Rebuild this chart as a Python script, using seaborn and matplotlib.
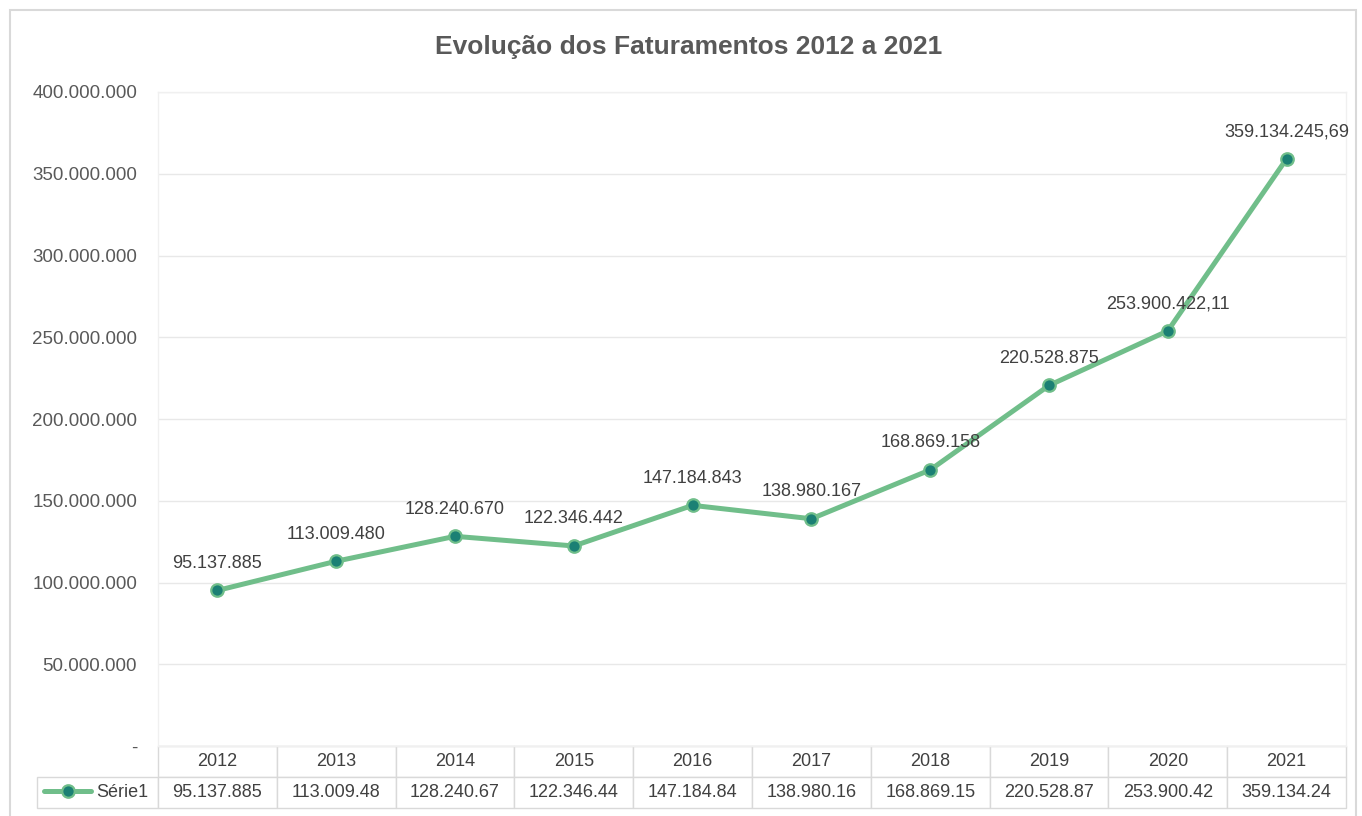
import matplotlib
matplotlib.use("Agg")
import matplotlib.pyplot as plt
import seaborn as sns
import pandas as pd
from matplotlib.lines import Line2D
from matplotlib.patches import Rectangle
from matplotlib.ticker import FuncFormatter

# data
years = ["2012", "2013", "2014", "2015", "2016", "2017", "2018", "2019", "2020", "2021"]
faturamento = [95137885, 113009480, 128240670, 122346442, 147184843,
               138980167, 168869158, 220528875, 253900422.11, 359134245.69]
point_labels = ["95.137.885", "113.009.480", "128.240.670", "122.346.442", "147.184.843",
                "138.980.167", "168.869.158", "220.528.875", "253.900.422,11", "359.134.245,69"]
table_values = ["95.137.885", "113.009.48", "128.240.67", "122.346.44", "147.184.84",
                "138.980.16", "168.869.15", "220.528.87", "253.900.42", "359.134.24"]
series_name = "Série1"
title = "Evolução dos Faturamentos 2012 a 2021"

LINE = "#70BE8A"
MARK = "#1B8074"
TXT = "#404040"
GRID = "#E8E8E8"

sns.set_theme(style="white")
plt.rcParams["font.family"] = ["Liberation Sans", "DejaVu Sans"]

W, H = 1362, 816
fig = plt.figure(figsize=(W / 100, H / 100), dpi=100)

# plot area in pixel terms
left, right, top, bottom = 158, 1346, 92, 746
ax = fig.add_axes([left / W, (H - bottom) / H, (right - left) / W, (bottom - top) / H])

df = pd.DataFrame({"pos": range(len(years)), "valor": faturamento})
sns.lineplot(data=df, x="pos", y="valor", ax=ax, color=LINE, linewidth=3.6,
             marker="o", markersize=9, markerfacecolor=MARK, markeredgecolor=LINE,
             markeredgewidth=1.6, zorder=3)

for i, (v, lab) in enumerate(zip(faturamento, point_labels)):
    ax.annotate(lab, (i, v), xytext=(0, 19.5), textcoords="offset points",
                ha="center", va="center", fontsize=13, color=TXT)

ax.set_xlim(-0.5, len(years) - 0.5)
ax.set_ylim(0, 400_000_000)
ax.set_yticks(range(0, 400_000_001, 50_000_000))
ax.yaxis.set_major_formatter(FuncFormatter(
    lambda v, p: "-" if v == 0 else f"{int(v):,}".replace(",", ".")))
ax.tick_params(axis="y", length=0, pad=15, labelsize=13.5, labelcolor="#595959")
ax.set_xticks([])
ax.set_xlabel("")
ax.set_ylabel("")
ax.grid(axis="y", color=GRID, linewidth=1)
for s in ax.spines.values():
    s.set_color("#F0F0F0")
    s.set_linewidth(1)

# data table under the plot
lab_w = (left - 37) / (right - left)
row_h = (808 - bottom) / (bottom - top)
tbl = ax.table(cellText=[[""] + table_values], colLabels=[""] + years,
               colWidths=[lab_w] + [1 / len(years)] * len(years),
               cellLoc="center", bbox=[-lab_w, -row_h, 1 + lab_w, row_h])
tbl.auto_set_font_size(False)
tbl.set_fontsize(13)
for (r, c), cell in tbl.get_celld().items():
    cell.set_edgecolor("#D9D9D9")
    cell.set_linewidth(1)
    cell.get_text().set_color(TXT)
tbl[0, 0].visible_edges = ""

# legend key inside the first table cell
handle = Line2D([], [], color=LINE, linewidth=3.6, marker="o", markersize=9,
                markerfacecolor=MARK, markeredgecolor=LINE, markeredgewidth=1.6)
ax.legend([handle], [series_name], loc="center", frameon=False, fontsize=13,
          bbox_to_anchor=(-lab_w / 2 - 0.001, -row_h * 0.75), handlelength=2.6,
          handletextpad=0.3, borderpad=0, labelcolor=TXT)

fig.text(689 / W, 1 - 47 / H, title, ha="center", va="center",
         fontsize=19, fontweight="bold", color="#595959")

# chart area border
fig.patches.append(Rectangle((10 / W, -0.01), (1356 - 10) / W, 1 - 10 / H + 0.01,
                             transform=fig.transFigure, fill=False,
                             edgecolor="#D9D9D9", linewidth=1.5))

fig.savefig("out.png", dpi=100)
